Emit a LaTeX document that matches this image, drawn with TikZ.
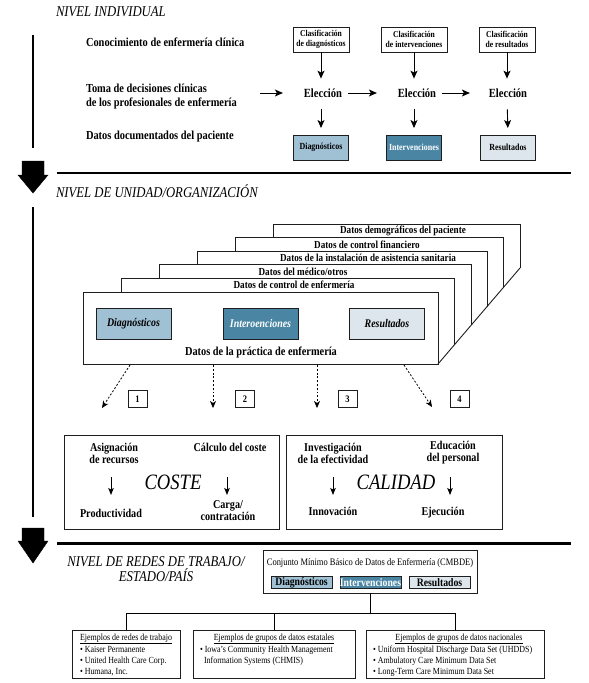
\documentclass[tikz,border=0pt]{standalone}
\usepackage{fontspec}
\setmainfont{Liberation Serif}[FakeStretch=0.85]
\usetikzlibrary{arrows.meta,calc}
\definecolor{cdiag}{RGB}{160,192,212}
\definecolor{cint}{RGB}{74,134,164}
\definecolor{cres}{RGB}{221,230,236}
\definecolor{cline}{RGB}{30,30,30}
\begin{document}
\begin{tikzpicture}[x=1bp,y=-1bp,
  every node/.style={inner sep=0pt,outer sep=0pt},
  ttl/.style={font=\fontsize{15}{15}\selectfont\itshape},
  lab/.style={font=\fontsize{12.3}{14}\selectfont\bfseries,align=left,anchor=west},
  elec/.style={font=\fontsize{12.5}{14}\selectfont\bfseries},
  clsbox/.style={draw=cline,line width=0.9pt,minimum height=25bp,font=\fontsize{9}{9.6}\selectfont\bfseries,align=center},
  datbox/.style={draw=cline,line width=0.9pt,minimum width=55bp,minimum height=25bp,font=\fontsize{9.4}{10}\selectfont\bfseries},
  arr/.style={line width=0.9pt,-{Stealth[length=8bp,width=7bp,inset=2bp]}},
  sarr/.style={line width=0.9pt,-{Stealth[length=7bp,width=5.5bp,inset=1.5bp]}},
  darr/.style={line width=0.8pt,dash pattern=on 2pt off 1.8pt,-{Stealth[length=7bp,width=6bp,inset=2bp]}},
  vline/.style={line width=2.2pt},
  rule/.style={line width=3pt},
  bigarrow/.style={fill=black},
  stk/.style={draw=cline,line width=0.9pt},
  tabtxt/.style={font=\fontsize{10.8}{11}\selectfont\bfseries},
  inbox/.style={draw=cline,line width=0.8pt,minimum width=75bp,minimum height=31bp,font=\fontsize{11.7}{12}\selectfont\bfseries\itshape},
  numbox/.style={draw=cline,line width=0.8pt,minimum width=19bp,minimum height=17bp,font=\fontsize{10}{10}\selectfont\bfseries},
  bigbox/.style={draw=cline,line width=0.9pt,minimum height=94bp},
  btxt/.style={font=\fontsize{12}{12}\selectfont\bfseries,align=center},
  bigword/.style={font=\fontsize{22}{22}\selectfont\itshape},
  cmbox/.style={draw=cline,line width=0.8pt,minimum width=61bp,minimum height=12bp,font=\fontsize{11.5}{11.5}\selectfont\bfseries},
  exbox/.style={draw=cline,line width=0.9pt,minimum height=48bp},
  extxt/.style={font=\fontsize{9.4}{11}\selectfont,align=left},
]
\useasboundingbox (0,0) rectangle (589,683);

% ---------------- NIVEL INDIVIDUAL ----------------
\node[ttl,anchor=west] (t1) at (56,12) {NIVEL INDIVIDUAL};
\coordinate (v1a) at (33,35);
\coordinate (v1b) at (33,148);
\draw[vline] (v1a) -- (v1b);

\node[lab] (l1) at (86,42) {Conocimiento de enfermería clínica};
\node[lab] (l2) at (86,97) {Toma de decisiones clínicas\\de los profesionales de enfermería};
\node[lab] (l3) at (86,137) {Datos documentados del paciente};

\node[clsbox,minimum width=56bp] (c1) at (321,39.5) {Clasificación\\de diagnósticos};
\node[clsbox,minimum width=66bp] (c2) at (414,39.5) {Clasificación\\de intervenciones};
\node[clsbox,minimum width=56bp] (c3) at (507,39.5) {Clasificación\\de resultados};

\node[elec] (e1) at (323,93) {Elección};
\node[elec] (e2) at (417,93) {Elección};
\node[elec] (e3) at (508,93) {Elección};

\node[datbox,fill=cdiag] (d1) at (321,147.5) {Diagnósticos};
\node[datbox,fill=cint,text=white] (d2) at (414,147.5) {Intervenciones};
\node[datbox,fill=cres] (d3) at (508,147.5) {Resultados};

\draw[arr,shorten >=10bp] (c1.south) -- (c1.south |- e1.north);
\draw[arr,shorten >=10bp] (c2.south) -- (c2.south |- e2.north);
\draw[arr,shorten >=10bp] (c3.south) -- (c3.south |- e3.north);
\draw[arr,shorten <=12bp,shorten >=7bp] (c1.south |- e1.south) -- (d1.north);
\draw[arr,shorten <=12bp,shorten >=7bp] (c2.south |- e2.south) -- (d2.north);
\draw[arr,shorten <=12bp,shorten >=7bp] (c3.south |- e3.south) -- (d3.north);

\coordinate (a0) at (260,93);
\draw[arr,shorten >=21bp] (a0) -- (e1.west);
\draw[arr,shorten <=6bp,shorten >=21bp] (e1.east) -- (e2.west);
\draw[arr,shorten <=6bp,shorten >=19bp] (e2.east) -- (e3.west);

\draw[bigarrow] (22,161) -- (44,161) -- (44,175) -- (48,175) -- (33,193) -- (18,175) -- (22,175) -- cycle;
\coordinate (r1a) at (57,173);
\coordinate (r1b) at (571,173);
\draw[rule] (r1a) -- (r1b);

% ---------------- NIVEL DE UNIDAD ----------------
\node[ttl,anchor=west] (t2) at (56,191) {NIVEL DE UNIDAD/ORGANIZACIÓN};
\coordinate (v2a) at (33,207);
\coordinate (v2b) at (33,517);
\draw[vline] (v2a) -- (v2b);

\draw[stk] (121,292) -- (121,278.4) -- (454,278.4) -- (454,345.3);
\draw[stk] (159,278.4) -- (159,264.8) -- (471,264.8) -- (471,325.4);
\draw[stk] (197,264.8) -- (197,251.2) -- (487,251.2) -- (487,306.6);
\draw[stk] (235,251.2) -- (235,237.6) -- (503,237.6) -- (503,287.9);
\draw[stk] (273,237.6) -- (273,224) -- (520,224) -- (520,268);
\draw[stk] (438,364) -- (520,268);
\node[stk,minimum width=355bp,minimum height=72bp] (fr) at (260.5,328) {};

\node[tabtxt] (tb1) at (294,285) {Datos de control de enfermería};
\node[tabtxt] (tb2) at (303,271.6) {Datos del médico/otros};
\node[tabtxt] (tb3) at (368,258) {Datos de la instalación de asistencia sanitaria};
\node[tabtxt] (tb4) at (367,244.4) {Datos de control financiero};
\node[tabtxt] (tb5) at (403,230.8) {Datos demográficos del paciente};

\node[inbox,fill=cdiag] (i1) at (133.5,323.5) {Diagnósticos};
\node[inbox,fill=cint,text=white] (i2) at (260.5,323.5) {Interoenciones};
\node[inbox,fill=cres] (i3) at (387,323.5) {Resultados};
\node[font=\fontsize{12.2}{12}\selectfont\bfseries] (pr) at (261,353) {Datos de la práctica de enfermería};

\coordinate (s1) at (130,365);
\coordinate (s2) at (213,365);
\coordinate (s3) at (317,365);
\coordinate (s4) at (404,365);
\coordinate (f1) at (102,408);
\coordinate (f2) at (213,408);
\coordinate (f3) at (317,408);
\coordinate (f4) at (432,407);
\draw[darr] (s1) -- (f1);
\draw[darr] (s2) -- (f2);
\draw[darr] (s3) -- (f3);
\draw[darr] (s4) -- (f4);

\node[numbox] (n1) at (137.5,399) {1};
\node[numbox] (n2) at (245,399) {2};
\node[numbox] (n3) at (347.5,399) {3};
\node[numbox] (n4) at (459.5,399) {4};

\node[bigbox,minimum width=215bp] (bc) at (171.5,482) {};
\node[bigbox,minimum width=216bp] (bq) at (394,482) {};

\node[btxt] (asig) at (114,453) {Asignación\\de recursos};
\node[btxt] (calc) at (230,447) {Cálculo del coste};
\node[bigword] (coste) at (173,482) {COSTE};
\node[btxt] (prod) at (111,513) {Productividad};
\node[btxt] (carga) at (228,511) {Carga/\\contratación};
\coordinate (ka1) at (111,477); \coordinate (kb1) at (111,495);
\coordinate (ka2) at (227,477); \coordinate (kb2) at (227,495);
\draw[sarr] (ka1) -- (kb1);
\draw[sarr] (ka2) -- (kb2);

\node[btxt] (inv) at (333,453) {Investigación\\de la efectividad};
\node[btxt] (edu) at (453,453) {Educación\\del personal};
\node[bigword] (cal) at (396,482) {CALIDAD};
\node[btxt] (inn) at (333,511) {Innovación};
\node[btxt] (eje) at (443,513) {Ejecución};
\coordinate (ka3) at (333,477); \coordinate (kb3) at (333,495);
\coordinate (ka4) at (450,477); \coordinate (kb4) at (450,495);
\draw[sarr] (ka3) -- (kb3);
\draw[sarr] (ka4) -- (kb4);

\draw[bigarrow] (22,528) -- (44,528) -- (44,541) -- (48,541) -- (33,563) -- (18,541) -- (22,541) -- cycle;
\coordinate (r2a) at (57,543);
\coordinate (r2b) at (571,543);
\draw[rule] (r2a) -- (r2b);

% ---------------- NIVEL DE REDES ----------------
\node[ttl,align=center] (t3) at (156,569.5) {NIVEL DE REDES DE TRABAJO/\\ESTADO/PAÍS};
\node[draw=cline,line width=0.9pt,minimum width=214bp,minimum height=43bp] (cm) at (370,571.5) {};
\node[font=\fontsize{10}{10}\selectfont] (cmt) at (370,563) {Conjunto Mínimo Básico de Datos de Enfermería (CMBDE)};
\node[cmbox,fill=cdiag] (cmd) at (301.5,582.5) {Diagnósticos};
\node[cmbox,fill=cint,text=white] (cmi) at (370.5,582.5) {Intervenciones};
\node[cmbox,fill=cres] (cmr) at (439.5,582.5) {Resultados};

\node[exbox,minimum width=108bp] (ba) at (126,654) {};
\node[exbox,minimum width=162bp] (bb) at (274,654) {};
\node[exbox,minimum width=178bp] (bx) at (455,654) {};

\coordinate (bus) at (0,613);
\draw[line width=0.9pt] (cm.south) -- (cm.south |- bus);
\draw[line width=0.9pt] (ba.north) |- (bx.north |- bus) -- (bx.north);
\draw[line width=0.9pt] (bb.north) -- (bb.north |- bus);

\node[extxt] (ta) at (126,639) {\underline{Ejemplos de redes de trabajo}};
\node[extxt,anchor=west] (la) at (80,661) {• Kaiser Permanente\\• United Health Care Corp.\\• Humana, Inc.};
\node[extxt] (tbb) at (274,639) {\underline{Ejemplos de grupos de datos estatales}};
\node[extxt,anchor=west] (lb) at (200,655.5) {• Iowa's Community Health Management\\\hspace*{4bp}Information Systems (CHMIS)};
\node[extxt] (tc) at (459,639) {\underline{Ejemplos de grupos de datos nacionales}};
\node[extxt,anchor=west] (lc) at (373,661) {• Uniform Hospital Discharge Data Set (UHDDS)\\• Ambulatory Care Minimum Data Set\\• Long-Term Care Minimum Data Set};
\end{tikzpicture}
\end{document}
